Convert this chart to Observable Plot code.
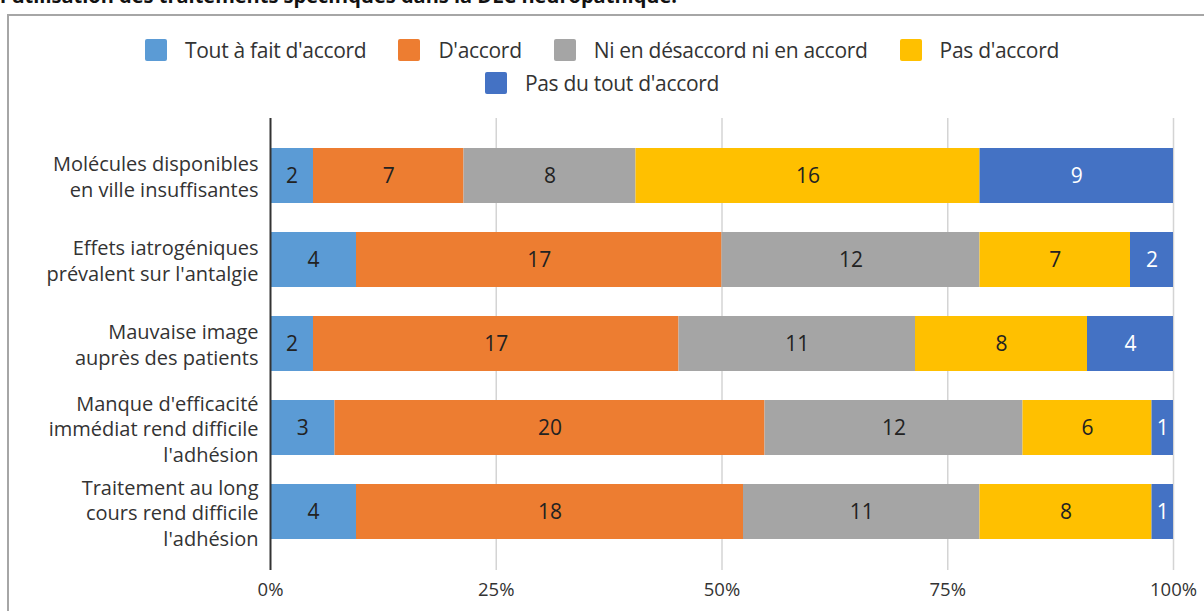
<!DOCTYPE html>
<html>
<head>
<meta charset="utf-8">
<script src="https://cdn.jsdelivr.net/npm/d3@7"></script>
<script src="https://cdn.jsdelivr.net/npm/@observablehq/plot@0.6"></script>
<style>
  html, body { margin: 0; padding: 0; background: #fff; overflow: hidden; width: 1204px; height: 611px; }
  body { position: relative; font-family: "Open Sans", sans-serif; color: #333; }
  #title { position: absolute; left: 0; top: -16px; font-size: 20px; line-height: 24px; font-weight: bold; color: #111; white-space: nowrap; }
  #box { position: absolute; left: 7px; top: 14px; width: 1300px; height: 700px; border: 2px solid #a6a6a6; box-sizing: border-box; }
  .lrow { position: absolute; left: 0; width: 1204px; display: flex; justify-content: center; align-items: center; height: 24px; }
  .item { display: flex; align-items: center; margin: 0 16px; font-size: 21px; color: #333; letter-spacing: -0.3px; }
  .sw { width: 22px; height: 22px; border-radius: 2px; margin-right: 18px; }
  #chart { position: absolute; left: 0; top: 110px; }
</style>
</head>
<body>
<div id="title">l'utilisation des traitements spécifiques dans la DLC neuropathique.</div>
<div id="box"></div>
<div class="lrow" id="legend1" style="top:38px"></div>
<div class="lrow" id="legend2" style="top:71px"></div>
<div id="chart"></div>
<script>
const questions = [
  "Molécules disponibles\nen ville insuffisantes",
  "Effets iatrogéniques\nprévalent sur l'antalgie",
  "Mauvaise image\nauprès des patients",
  "Manque d'efficacité\nimmédiat rend difficile\nl'adhésion",
  "Traitement au long\ncours rend difficile\nl'adhésion"
];
const categories = ["Tout à fait d'accord", "D'accord", "Ni en désaccord ni en accord", "Pas d'accord", "Pas du tout d'accord"];
const colors = ["#5b9bd5", "#ed7d31", "#a5a5a5", "#ffc000", "#4472c4"];
const toutAFait   = [2, 4, 2, 3, 4];
const dAccord     = [7, 17, 17, 20, 18];
const neutre      = [8, 12, 11, 12, 11];
const pasDAccord  = [16, 7, 8, 6, 8];
const pasDuTout   = [9, 2, 4, 1, 1];
const xTicks = [0, 0.25, 0.5, 0.75, 1];
const xTickLabels = ["0%", "25%", "50%", "75%", "100%"];

const series = [toutAFait, dAccord, neutre, pasDAccord, pasDuTout];
const data = [];
categories.forEach((cat, ci) => {
  questions.forEach((q, qi) => data.push({q, cat, count: series[ci][qi]}));
});
const lastCat = categories[categories.length - 1];

// Legend
const rows = [categories.slice(0, 4), categories.slice(4)];
rows.forEach((row, ri) => {
  const el = document.getElementById("legend" + (ri + 1));
  row.forEach(cat => {
    const it = document.createElement("div");
    it.className = "item";
    const sw = document.createElement("div");
    sw.className = "sw";
    sw.style.background = colors[categories.indexOf(cat)];
    const tx = document.createElement("span");
    tx.textContent = cat;
    it.appendChild(sw); it.appendChild(tx);
    el.appendChild(it);
  });
});

const stackOpts = {offset: "normalize", x: "count", y: "q", z: "cat"};

const chart = Plot.plot({
  width: 1204,
  height: 500,
  marginLeft: 270,
  marginRight: 31,
  marginTop: 8,
  marginBottom: 40,
  style: {fontFamily: "Open Sans, sans-serif", color: "#333", background: "transparent", overflow: "visible"},
  x: {domain: [0, 1]},
  y: {domain: questions, paddingInner: 0.34, paddingOuter: 0.36},
  color: {domain: categories, range: colors},
  marks: [
    Plot.ruleX(xTicks.slice(1), {stroke: "#d4d4d4", strokeWidth: 1.5}),
    Plot.barX(data, Plot.stackX({...stackOpts, fill: "cat"})),
    Plot.ruleX([0], {stroke: "#333", strokeWidth: 2}),
    Plot.text(data, Plot.stackX({...stackOpts, text: d => d.cat !== lastCat ? String(d.count) : "", fill: "#222", fontSize: 21})),
    Plot.text(data, Plot.stackX({...stackOpts, text: d => d.cat === lastCat ? String(d.count) : "", fill: "white", fontSize: 21})),
    Plot.axisX({ticks: xTicks, tickFormat: (d) => xTickLabels[xTicks.indexOf(d)], tickSize: 0, tickPadding: 12, fontSize: 18.5, label: null}),
    Plot.axisY({tickSize: 0, tickPadding: 12, fontSize: 20, lineHeight: 1.28, label: null})
  ]
});
document.getElementById("chart").appendChild(chart);
</script>
</body>
</html>
